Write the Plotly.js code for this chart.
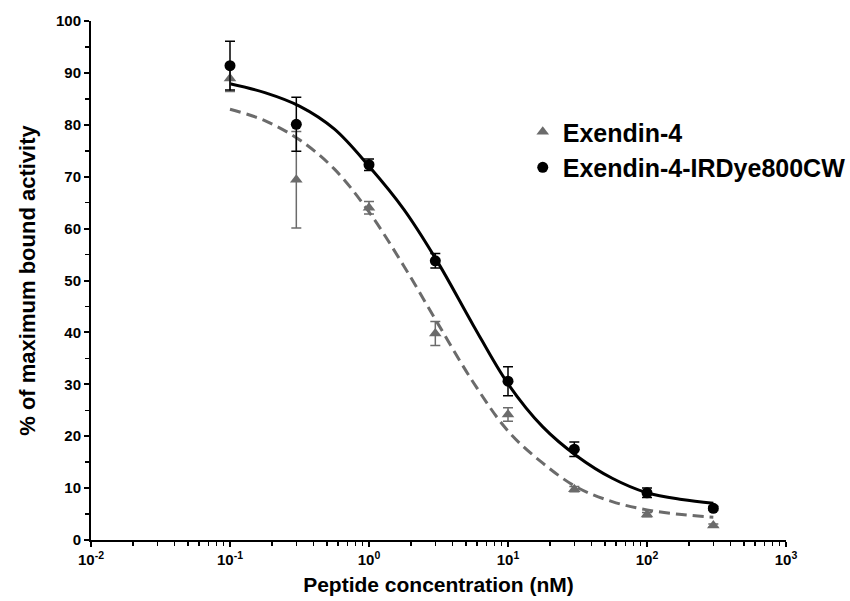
<!DOCTYPE html>
<html>
<head>
<meta charset="utf-8">
<script src="https://cdn.plot.ly/plotly-3.0.1.min.js"></script>
<style>html,body{margin:0;padding:0;background:#fff;}#chart{width:850px;height:601px;}</style>
</head>
<body>
<div id="chart"></div>
<script>
// Concentrations (nM)
const conc = [0.1, 0.3, 1, 3, 10, 30, 100, 300];
// Exendin-4 (grey triangles)
const ex4Mean = [88.9, 69.4, 64.0, 39.8, 24.2, 9.8, 4.9, 2.8];
const ex4Err  = [2.5, 9.3, 1.2, 2.3, 1.3, 0.5, 0.4, 0.3];
// Exendin-4-IRDye800CW (black circles)
const irMean = [91.4, 80.1, 72.3, 53.8, 30.6, 17.5, 9.1, 6.1];
const irErr  = [4.7, 5.2, 1.1, 1.4, 2.8, 1.4, 0.9, 0.4];
// Fitted curves
const fitX    = [0.1, 0.178, 0.316, 0.562, 1, 1.78, 3.16, 5.62, 10, 17.8, 31.6, 56.2, 100, 178, 300];
const fitIr   = [87.9, 86.2, 83.6, 79.2, 72.0, 63.7, 53.3, 41.4, 30.1, 21.8, 16.1, 11.9, 9.1, 7.8, 7.1];
const fitEx4  = [83.0, 80.8, 77.1, 71.5, 63.2, 52.8, 41.5, 30.4, 21.0, 14.8, 10.1, 7.4, 5.8, 4.9, 4.4];
// Tick labels
const xTickVals = [0.01, 0.1, 1, 10, 100, 1000];
const xTickText = ['10<sup>-2</sup>', '10<sup>-1</sup>', '10<sup>0</sup>', '10<sup>1</sup>', '10<sup>2</sup>', '10<sup>3</sup>'];
const yTickVals = [0, 10, 20, 30, 40, 50, 60, 70, 80, 90, 100];
const yTickText = ['0', '10', '20', '30', '40', '50', '60', '70', '80', '90', '100'];
const names = ['Exendin-4', 'Exendin-4-IRDye800CW'];

const grey = '#6b6b6b';
const fam = '"Liberation Sans", Arial, sans-serif';
const bold = s => '<b>' + s + '</b>';

const traces = [
  {x: fitX, y: fitEx4, mode: 'lines', line: {color: grey, width: 3, dash: '11px,6px', shape: 'spline', smoothing: 1}, showlegend: false, hoverinfo: 'skip'},
  {x: fitX, y: fitIr, mode: 'lines', line: {color: '#000', width: 3, shape: 'spline', smoothing: 1}, showlegend: false, hoverinfo: 'skip'},
  {x: conc, y: ex4Mean, name: bold(names[0]), mode: 'markers',
   marker: {symbol: 'triangle-up', size: 11, color: grey},
   error_y: {type: 'data', array: ex4Err, visible: true, color: grey, thickness: 1.5, width: 5}},
  {x: conc, y: irMean, name: bold(names[1]), mode: 'markers',
   marker: {symbol: 'circle', size: 11, color: '#000'},
   error_y: {type: 'data', array: irErr, visible: true, color: '#000', thickness: 1.5, width: 5}}
];

const layout = {
  width: 850, height: 601,
  margin: {l: 91, r: 64, t: 21, b: 61, autoexpand: false},
  paper_bgcolor: '#fff', plot_bgcolor: '#fff',
  font: {family: fam, color: '#000'},
  xaxis: {
    type: 'log', range: [-2, 3],
    tickvals: xTickVals, ticktext: xTickText.map(bold),
    ticks: 'outside', ticklen: 5, tickwidth: 2, tickcolor: '#000',
    showline: true, linecolor: '#000', linewidth: 2,
    showgrid: false, zeroline: false,
    tickfont: {family: fam, size: 15, color: '#000'},
    minor: {ticks: 'outside', ticklen: 4, tickwidth: 1.5, tickcolor: '#000', dtick: 'D1', showgrid: false},
    title: {text: bold('Peptide concentration (nM)'), font: {family: fam, size: 21, color: '#000'}, standoff: 10}
  },
  yaxis: {
    range: [0, 100],
    tickvals: yTickVals, ticktext: yTickText.map(bold),
    ticks: 'outside', ticklen: 5, tickwidth: 2, tickcolor: '#000',
    showline: true, linecolor: '#000', linewidth: 2,
    showgrid: false, zeroline: false,
    tickfont: {family: fam, size: 15, color: '#000'},
    minor: {ticks: 'outside', ticklen: 4, tickwidth: 1.5, tickcolor: '#000', dtick: 5, showgrid: false},
    title: {text: bold('% of maximum bound activity'), font: {family: fam, size: 22, color: '#000'}, standoff: 14}
  },
  legend: {
    xref: 'container', yref: 'container',
    x: 0.615, y: 0.8186, xanchor: 'left', yanchor: 'top',
    font: {family: fam, size: 25, color: '#000'},
    bgcolor: 'rgba(0,0,0,0)', itemwidth: 30
  },
  showlegend: true
};

Plotly.newPlot('chart', traces, layout, {displayModeBar: false, staticPlot: true});
</script>
</body>
</html>
